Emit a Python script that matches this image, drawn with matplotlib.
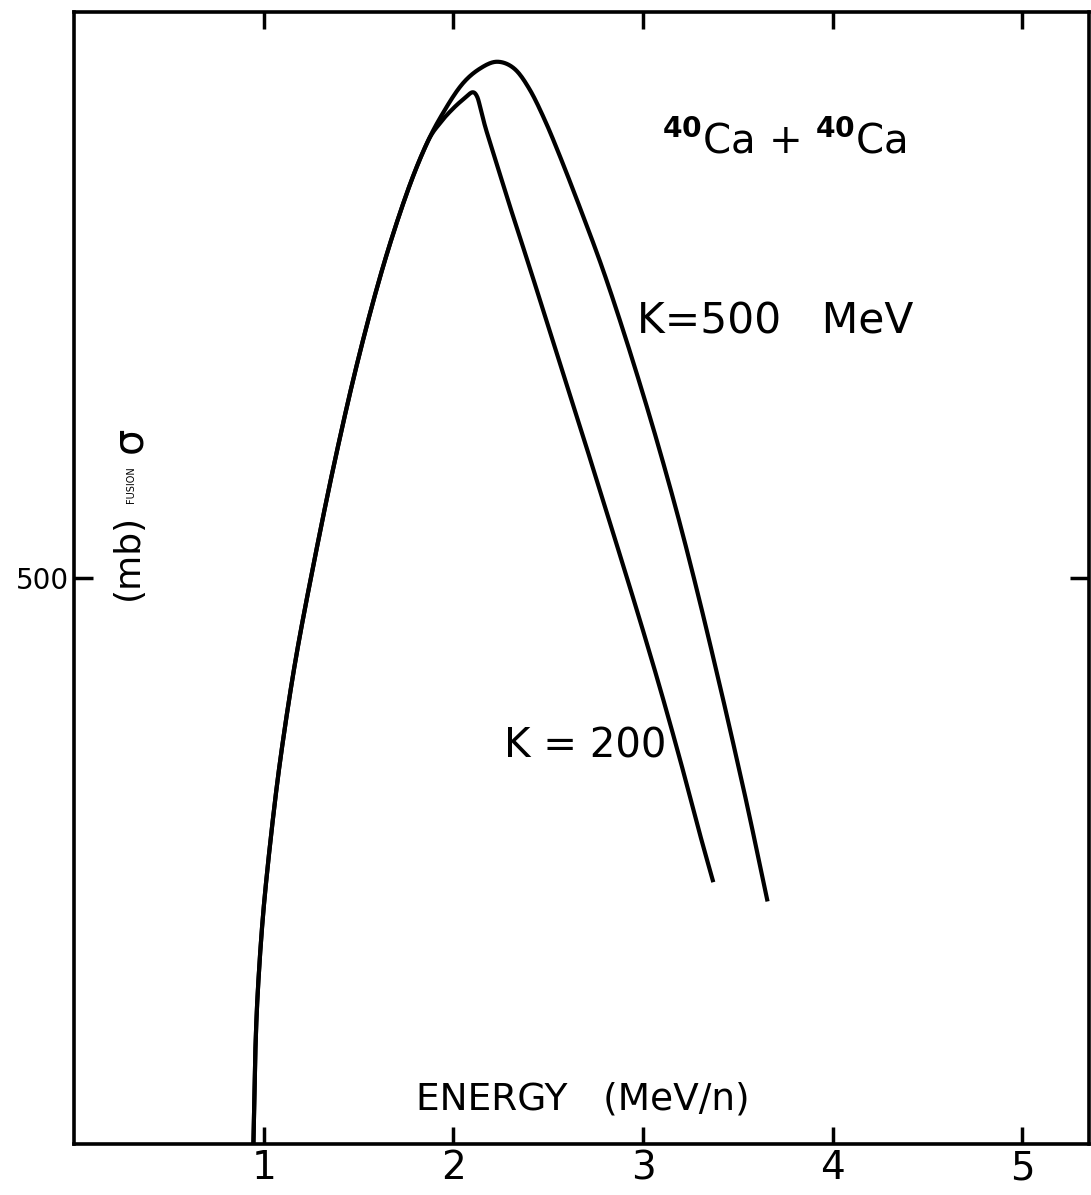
import numpy as np
import matplotlib
matplotlib.use("Agg")
import matplotlib.pyplot as plt

# fusion cross section (mb) vs bombarding energy (MeV/n), 40Ca + 40Ca
# rising branch is common to both incompressibilities
e_rise = [0.945, 0.955, 0.97, 1.00, 1.05, 1.10, 1.17, 1.26, 1.37, 1.49, 1.62, 1.75, 1.86]
s_rise = [0, 80, 140, 210, 290, 355, 430, 510, 600, 688, 770, 838, 884]

# K = 500 MeV
e_k500 = [1.96, 2.05, 2.14, 2.23, 2.32, 2.40, 2.48, 2.56, 2.66, 2.78, 2.89, 3.00,
          3.10, 3.20, 3.30, 3.40, 3.48, 3.56, 3.656]
s_k500 = [915, 937, 950, 956, 950, 932, 905, 873, 830, 776, 721, 662,
          605, 544, 478, 408, 350, 290, 214]

# K = 200 MeV
e_k200 = [1.93, 2.00, 2.06, 2.10, 2.125, 2.145, 2.17, 2.22, 2.30, 2.40, 2.50, 2.60,
          2.70, 2.80, 2.90, 3.00, 3.10, 3.20, 3.30, 3.37]
s_k200 = [902, 915, 924, 929, 925, 913, 897, 870, 827, 775, 722, 669,
          616, 562, 508, 453, 396, 336, 273, 231]

xticks = [1, 2, 3, 4, 5]
xticklabels = ["1", "2", "3", "4", "5"]
yticks = [500]


def catmull_rom(x, y, yscale, n=16):
    # smooth curve through the points, done in roughly isotropic units
    pts = np.column_stack([x, np.asarray(y) * yscale])
    p = np.vstack([2 * pts[0] - pts[1], pts, 2 * pts[-1] - pts[-2]])
    t = np.linspace(0, 1, n, endpoint=False)[:, None]
    out = []
    for i in range(1, len(p) - 2):
        p0, p1, p2, p3 = p[i - 1], p[i], p[i + 1], p[i + 2]
        seg = 0.5 * (2 * p1 + (-p0 + p2) * t
                     + (2 * p0 - 5 * p1 + 4 * p2 - p3) * t ** 2
                     + (-p0 + 3 * p1 - 3 * p2 + p3) * t ** 3)
        out.append(seg)
    out.append(pts[-1:])
    out = np.vstack(out)
    return out[:, 0], out[:, 1] / yscale


plt.rcParams['font.family'] = ['DejaVu Sans']

fig = plt.figure(figsize=(10.91, 11.95), dpi=100)
ax = fig.add_axes([0.068, 0.043, 0.930, 0.947])

ysc = 1.136 / 189.6
for ex, sx in [(e_k500, s_k500), (e_k200, s_k200)]:
    xs, ys = catmull_rom(e_rise + ex, s_rise + sx, ysc)
    ax.plot(xs, ys, color='black', lw=3.0, solid_capstyle='butt')

ax.set_xlim(0, 5.35)
ax.set_ylim(0, 1000)

ax.set_xticks(xticks)
ax.set_xticklabels(xticklabels, fontsize=28)
ax.set_yticks(yticks)
ax.set_yticklabels([str(v) for v in yticks], fontsize=20)
ax.tick_params(axis='x', direction='in', length=12, width=2.5, top=True, pad=4)
ax.tick_params(axis='y', direction='in', length=14, width=2.5, right=True, pad=4)

for sp in ax.spines.values():
    sp.set_linewidth(2.6)

# axis titles drawn inside the frame
ax.text(1.80, 30, "ENERGY   (MeV/n)", fontsize=27, ha='left', va='baseline')
ax.text(0.29, 622, "σ", fontsize=30, rotation=90, ha='center', va='center')
ax.text(0.30, 582, "FUSION", fontsize=7, rotation=90, ha='center', va='center')
ax.text(0.285, 518, "(mb)", fontsize=26, rotation=90, ha='center', va='center')

# curve annotations
ax.text(3.10, 875, r"$^{\mathbf{40}}$Ca + $^{\mathbf{40}}$Ca", fontsize=29, ha='left', va='baseline')
ax.text(2.97, 716, "K=500   MeV", fontsize=30.5, ha='left', va='baseline')
ax.text(2.265, 341, "K = 200", fontsize=29, ha='left', va='baseline')

fig.savefig("out.png", dpi=100, facecolor='white')
